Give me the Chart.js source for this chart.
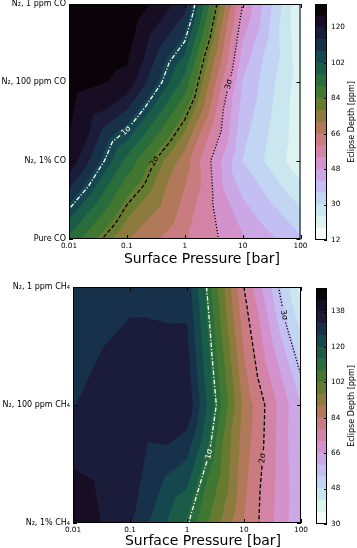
<!DOCTYPE html>
<html>
<head>
<meta charset="utf-8">
<title>Eclipse depth vs surface pressure</title>
<script src="https://cdn.jsdelivr.net/npm/chart.js"></script>
<style>
    body { margin: 0; background: #fff; width: 357px; height: 548px; overflow: hidden; position: relative; }
    canvas { position: absolute; }
</style>
</head>
<body>
<canvas id="coMap" width="310" height="270" style="left:0;top:0"></canvas>
<canvas id="coBar" width="52" height="250" style="left:305px;top:0"></canvas>
<canvas id="chMap" width="310" height="272" style="left:0;top:276px"></canvas>
<canvas id="chBar" width="52" height="258" style="left:305px;top:276px"></canvas>
<script>
// grid columns (surface pressure, bar)
const pressures = [0.01, 0.1, 1, 10, 100];

// top panel: CO
const coLabels = ['N\u2082, 1 ppm CO', 'N\u2082, 100 ppm CO', 'N\u2082, 1% CO', 'Pure CO'];
const coDepth = [
    [132, 132, 117, 54, 19],
    [129, 124.4, 94, 42, 21],
    [124.6, 94.3, 68.8, 36, 20],
    [94.6, 72.5, 61, 49, 37]
];
const coLevels = [12, 18, 24, 30, 36, 42, 48, 54, 60, 66, 72, 78, 84, 90, 96, 102, 108, 114, 120, 126, 132];
const coTicks = [12, 30, 48, 66, 84, 102, 120];
const coSigma = [106, 82, 54];

// bottom panel: CH4
const chLabels = ['N\u2082, 1 ppm CH\u2084', 'N\u2082, 100 ppm CH\u2084', 'N\u2082, 1% CH\u2084'];
const chDepth = [
    [129, 130.6, 129.8, 78, 40],
    [131.8, 136, 137, 88.4, 60],
    [143.4, 132.5, 113, 84, 61]
];
const chLevels = [30, 36, 42, 48, 54, 60, 66, 72, 78, 84, 90, 96, 102, 108, 114, 120, 126, 132, 138, 144, 150];
const chTicks = [30, 48, 66, 84, 102, 120, 138];
const chSigma = [112, 78, 55];

const sigmaNames = ['1\u03c3', '2\u03c3', '3\u03c3'];

Chart.defaults.font.family = '"DejaVu Sans", sans-serif';
Chart.defaults.color = '#000';
Chart.defaults.animation = false;

// cubehelix_r, 256 entry table like matplotlib
function cmapColor(x) {
    const idx = Math.min(255, Math.max(0, Math.floor(x * 256)));
    const l = 1 - idx / 255;
    const a = l * (1 - l) / 2;
    const phi = 2 * Math.PI * (0.5 / 3 - 1.5 * l);
    const c = Math.cos(phi), s = Math.sin(phi);
    const rgb = [
        l + a * (-0.14861 * c + 1.78277 * s),
        l + a * (-0.29227 * c - 0.90649 * s),
        l + a * (1.97294 * c)
    ];
    return rgb.map(v => Math.round(255 * Math.min(1, Math.max(0, v))));
}
function bandColors(levels) {
    const n = levels.length - 1;
    return Array.from({ length: n }, (_, k) => cmapColor((k + 0.5) / n));
}

const logP = pressures.map(Math.log10);
function colToPressure(ci) {
    const i = Math.min(logP.length - 2, Math.max(0, Math.floor(ci)));
    return 10 ** (logP[i] + (ci - i) * (logP[i + 1] - logP[i]));
}
function pressureToCol(p) {
    const lp = Math.log10(p);
    let i = 0;
    while (i < logP.length - 2 && lp > logP[i + 1]) i++;
    return i + (lp - logP[i]) / (logP[i + 1] - logP[i]);
}

function bary(px, py, ax, ay, va, bx, by, vb, cx, cy, vc) {
    const d = (by - cy) * (ax - cx) + (cx - bx) * (ay - cy);
    const wa = ((by - cy) * (px - cx) + (cx - bx) * (py - cy)) / d;
    const wb = ((cy - ay) * (px - cx) + (ax - cx) * (py - cy)) / d;
    return wa * va + wb * vb + (1 - wa - wb) * vc;
}

// each grid quad is split in four triangles around its centre
function makeField(depth) {
    const rows = depth.length, cols = depth[0].length;
    return function (gi, gj) {
        const i = Math.min(cols - 2, Math.max(0, Math.floor(gi)));
        const j = Math.min(rows - 2, Math.max(0, Math.floor(gj)));
        const s = gi - i, t = gj - j;
        const v00 = depth[j][i], v10 = depth[j][i + 1], v11 = depth[j + 1][i + 1], v01 = depth[j + 1][i];
        const vc = (v00 + v10 + v11 + v01) / 4;
        if (t <= s && t <= 1 - s) return bary(s, t, 0, 0, v00, 1, 0, v10, .5, .5, vc);
        if (s >= t && s >= 1 - t) return bary(s, t, 1, 0, v10, 1, 1, v11, .5, .5, vc);
        if (t >= s && t >= 1 - s) return bary(s, t, 1, 1, v11, 0, 1, v01, .5, .5, vc);
        return bary(s, t, 0, 1, v01, 0, 0, v00, .5, .5, vc);
    };
}

function contourPaths(depth, level) {
    const rows = depth.length, cols = depth[0].length;
    const segs = [];
    const node = (j, i) => ({ k: 'n' + j + '_' + i, i: i, j: j, v: depth[j][i] });
    for (let j = 0; j < rows - 1; j++) {
        for (let i = 0; i < cols - 1; i++) {
            const a = node(j, i), b = node(j, i + 1), c = node(j + 1, i + 1), d = node(j + 1, i);
            const e = { k: 'c' + j + '_' + i, i: i + .5, j: j + .5, v: (a.v + b.v + c.v + d.v) / 4 };
            for (const tri of [[a, b, e], [b, c, e], [c, d, e], [d, a, e]]) {
                const hits = [];
                for (let m = 0; m < 3; m++) {
                    const p = tri[m], q = tri[(m + 1) % 3];
                    if ((p.v >= level) !== (q.v >= level)) {
                        const f = (level - p.v) / (q.v - p.v);
                        hits.push({ key: [p.k, q.k].sort().join('|'), i: p.i + f * (q.i - p.i), j: p.j + f * (q.j - p.j) });
                    }
                }
                if (hits.length === 2) segs.push(hits);
            }
        }
    }
    const byKey = {};
    segs.forEach((s, n) => s.forEach(h => (byKey[h.key] = byKey[h.key] || []).push(n)));
    const used = segs.map(() => false);
    const isEnd = n => segs[n].some(h => byKey[h.key].length === 1);
    const order = segs.map((_, n) => n).sort((p, q) => isEnd(q) - isEnd(p));
    const paths = [];
    for (const n0 of order) {
        if (used[n0]) continue;
        used[n0] = true;
        let [first, second] = segs[n0];
        if (byKey[second.key].length === 1 && byKey[first.key].length !== 1) [first, second] = [second, first];
        const pts = [first, second];
        let cur = second;
        for (;;) {
            const next = byKey[cur.key].find(n => !used[n]);
            if (next === undefined) break;
            used[next] = true;
            const sg = segs[next];
            cur = sg[0].key === cur.key ? sg[1] : sg[0];
            pts.push(cur);
        }
        paths.push(pts);
    }
    return paths;
}

function pointAt(pts, cum, s) {
    s = Math.max(0, Math.min(cum[cum.length - 1], s));
    let k = 0;
    while (k < cum.length - 2 && cum[k + 1] < s) k++;
    const f = cum[k + 1] > cum[k] ? (s - cum[k]) / (cum[k + 1] - cum[k]) : 0;
    return [pts[k][0] + f * (pts[k + 1][0] - pts[k][0]), pts[k][1] + f * (pts[k + 1][1] - pts[k][1])];
}
function piece(pts, cum, s1, s2) {
    const out = [pointAt(pts, cum, s1)];
    for (let k = 0; k < pts.length; k++) if (cum[k] > s1 && cum[k] < s2) out.push(pts[k]);
    out.push(pointAt(pts, cum, s2));
    return out;
}
function strokePoly(ctx, pts) {
    if (pts.length < 2) return;
    ctx.beginPath();
    ctx.moveTo(pts[0][0], pts[0][1]);
    for (let k = 1; k < pts.length; k++) ctx.lineTo(pts[k][0], pts[k][1]);
    ctx.stroke();
}

const sigmaStyles = [
    { color: '#fff', dash: [4.5, 1.8, 1.2, 1.8] },
    { color: '#000', dash: [4, 2.2] },
    { color: '#000', dash: [1.2, 1.8] }
];

function drawSigma(ctx, chart, paths, style, text, at) {
    const sx = chart.scales.x, sy = chart.scales.y;
    const target = [sx.getPixelForValue(at[0]), sy.getPixelForValue(at[1])];
    const polys = paths.map(path => {
        const pts = path.map(p => [sx.getPixelForValue(colToPressure(p.i)), sy.getPixelForValue(p.j)]);
        const cum = [0];
        for (let k = 1; k < pts.length; k++) cum.push(cum[k - 1] + Math.hypot(pts[k][0] - pts[k - 1][0], pts[k][1] - pts[k - 1][1]));
        return { pts, cum };
    });
    let best = null;
    polys.forEach((pl, n) => {
        for (let k = 0; k < pl.pts.length - 1; k++) {
            const [x1, y1] = pl.pts[k], [x2, y2] = pl.pts[k + 1];
            const L2 = (x2 - x1) ** 2 + (y2 - y1) ** 2;
            let f = L2 ? ((target[0] - x1) * (x2 - x1) + (target[1] - y1) * (y2 - y1)) / L2 : 0;
            f = Math.max(0, Math.min(1, f));
            const d = Math.hypot(x1 + f * (x2 - x1) - target[0], y1 + f * (y2 - y1) - target[1]);
            if (!best || d < best.d) best = { d, n, s: pl.cum[k] + f * Math.sqrt(L2) };
        }
    });
    ctx.font = '8px "DejaVu Sans"';
    const half = ctx.measureText(text).width / 2 + 2.5;
    ctx.strokeStyle = style.color;
    ctx.lineWidth = 1.3;
    ctx.setLineDash(style.dash);
    polys.forEach((pl, n) => {
        const total = pl.cum[pl.cum.length - 1];
        if (best && n === best.n) {
            strokePoly(ctx, piece(pl.pts, pl.cum, 0, best.s - half));
            strokePoly(ctx, piece(pl.pts, pl.cum, best.s + half, total));
        } else {
            strokePoly(ctx, pl.pts);
        }
    });
    ctx.setLineDash([]);
    if (!best) return;
    const pl = polys[best.n];
    const p1 = pointAt(pl.pts, pl.cum, best.s - half), p2 = pointAt(pl.pts, pl.cum, best.s + half);
    const mid = pointAt(pl.pts, pl.cum, best.s);
    let ang = Math.atan2(p2[1] - p1[1], p2[0] - p1[0]);
    if (ang > Math.PI / 2) ang -= Math.PI;
    if (ang <= -Math.PI / 2) ang += Math.PI;
    ctx.save();
    ctx.translate(mid[0], mid[1]);
    ctx.rotate(ang);
    ctx.fillStyle = style.color;
    ctx.textAlign = 'center';
    ctx.textBaseline = 'middle';
    ctx.fillText(text, 0, 0);
    ctx.restore();
}

function makePanel(id, cfg) {
    const colors = bandColors(cfg.levels);
    const field = makeField(cfg.depth);
    const sigmaPaths = cfg.sigma.map(L => contourPaths(cfg.depth, L));
    const plugin = {
        id: 'contour_' + id,
        beforeDatasetsDraw(chart) {
            const { ctx, chartArea: { left, top, right, bottom } } = chart;
            const sx = chart.scales.x, sy = chart.scales.y;
            const ss = 2;
            const W = Math.round(right - left) * ss, H = Math.round(bottom - top) * ss;
            const off = document.createElement('canvas');
            off.width = W; off.height = H;
            const octx = off.getContext('2d');
            const img = octx.createImageData(W, H);
            const gis = [];
            for (let px = 0; px < W; px++) gis.push(pressureToCol(sx.getValueForPixel(left + (px + 0.5) / ss)));
            const n = cfg.levels.length - 1;
            for (let py = 0; py < H; py++) {
                const gj = sy.getValueForPixel(top + (py + 0.5) / ss);
                for (let px = 0; px < W; px++) {
                    const v = field(gis[px], gj);
                    let k = 0;
                    while (k < n - 1 && v >= cfg.levels[k + 1]) k++;
                    const c = colors[k], o = (py * W + px) * 4;
                    img.data[o] = c[0]; img.data[o + 1] = c[1]; img.data[o + 2] = c[2]; img.data[o + 3] = 255;
                }
            }
            octx.putImageData(img, 0, 0);
            ctx.drawImage(off, left, top, right - left, bottom - top);
        },
        afterDraw(chart) {
            const { ctx, chartArea: { left, top, right, bottom } } = chart;
            const sx = chart.scales.x, sy = chart.scales.y;
            ctx.save();
            ctx.beginPath();
            ctx.rect(left, top, right - left, bottom - top);
            ctx.clip();
            sigmaPaths.forEach((paths, m) => drawSigma(ctx, chart, paths, sigmaStyles[m], sigmaNames[m], cfg.labelAt[m]));
            ctx.restore();

            ctx.save();
            ctx.strokeStyle = '#000';
            ctx.lineWidth = 1;
            ctx.strokeRect(left + 0.5, top + 0.5, right - left - 1, bottom - top - 1);
            ctx.beginPath();
            pressures.forEach(p => {
                const x = Math.round(sx.getPixelForValue(p)) + 0.5;
                ctx.moveTo(x, bottom); ctx.lineTo(x, bottom - 4);
                ctx.moveTo(x, top); ctx.lineTo(x, top + 4);
            });
            cfg.labels.forEach((_, j) => {
                const y = Math.round(sy.getPixelForValue(j)) + 0.5;
                ctx.moveTo(left, y); ctx.lineTo(left + 4, y);
                ctx.moveTo(right, y); ctx.lineTo(right - 4, y);
            });
            ctx.stroke();
            ctx.fillStyle = '#000';
            ctx.font = '14px "DejaVu Sans"';
            ctx.textAlign = 'center';
            ctx.textBaseline = 'alphabetic';
            ctx.fillText('Surface Pressure [bar]', cfg.titleX, cfg.titleY);
            ctx.restore();
        }
    };
    return new Chart(document.getElementById(id), {
        type: 'scatter',
        data: { datasets: [] },
        options: {
            responsive: false,
            animation: false,
            layout: { padding: cfg.pad },
            plugins: { legend: { display: false }, tooltip: { enabled: false } },
            scales: {
                x: {
                    type: 'logarithmic',
                    min: pressures[0],
                    max: pressures[pressures.length - 1],
                    grid: { display: false, drawTicks: false },
                    border: { display: false },
                    afterBuildTicks: s => { s.ticks = pressures.map(v => ({ value: v })); },
                    afterFit: s => { s.height = cfg.xAxisH; s.paddingLeft = 0; s.paddingRight = 0; },
                    ticks: { callback: v => String(v), font: { size: 7.3 }, padding: 3, maxRotation: 0, autoSkip: false }
                },
                y: {
                    type: 'linear',
                    reverse: true,
                    min: 0,
                    max: cfg.labels.length - 1,
                    grid: { display: false, drawTicks: false },
                    border: { display: false },
                    afterBuildTicks: s => { s.ticks = cfg.labels.map((_, j) => ({ value: j })); },
                    afterFit: s => { s.width = cfg.yAxisW; s.paddingTop = 0; s.paddingBottom = 0; },
                    ticks: { callback: v => cfg.labels[v], font: { size: 8 }, padding: 3, autoSkip: false }
                }
            }
        },
        plugins: [plugin]
    });
}

function makeColorbar(id, levels, ticks, pad) {
    const colors = bandColors(levels);
    const frame = {
        id: 'cbframe_' + id,
        afterDraw(chart) {
            const { ctx, chartArea: { left, top, right, bottom } } = chart;
            const sy = chart.scales.y;
            ctx.save();
            ctx.strokeStyle = '#000';
            ctx.lineWidth = 1;
            ctx.strokeRect(left + 0.5, top + 0.5, right - left - 1, bottom - top - 1);
            ctx.beginPath();
            ticks.forEach(v => {
                const y = Math.round(sy.getPixelForValue(v)) + 0.5;
                ctx.moveTo(right, y); ctx.lineTo(right - 3, y);
            });
            ctx.stroke();
            ctx.translate(47, (top + bottom) / 2);
            ctx.rotate(-Math.PI / 2);
            ctx.fillStyle = '#000';
            ctx.font = '8px "DejaVu Sans"';
            ctx.textAlign = 'center';
            ctx.textBaseline = 'middle';
            ctx.fillText('Eclipse Depth [ppm]', 0, 0);
            ctx.restore();
        }
    };
    return new Chart(document.getElementById(id), {
        type: 'bar',
        data: {
            labels: [''],
            datasets: colors.map((c, k) => ({
                data: [[levels[k], levels[k + 1]]],
                backgroundColor: 'rgb(' + c.join(',') + ')',
                borderWidth: 0,
                grouped: false,
                barPercentage: 1,
                categoryPercentage: 1
            }))
        },
        options: {
            responsive: false,
            animation: false,
            layout: { padding: pad },
            plugins: { legend: { display: false }, tooltip: { enabled: false } },
            scales: {
                x: { display: false },
                y: {
                    position: 'right',
                    min: levels[0],
                    max: levels[levels.length - 1],
                    grid: { display: false, drawTicks: false },
                    border: { display: false },
                    afterBuildTicks: s => { s.ticks = ticks.map(v => ({ value: v })); },
                    afterFit: s => { s.width = 30; s.paddingTop = 0; s.paddingBottom = 0; },
                    ticks: { font: { size: 7.3 }, padding: 4, autoSkip: false }
                }
            }
        },
        plugins: [frame]
    });
}

makePanel('coMap', {
    depth: coDepth, levels: coLevels, labels: coLabels, sigma: coSigma,
    labelAt: [[0.086, 1.57], [0.285, 2.0], [4.1, 1.0]],
    pad: { top: 4, right: 9.5, left: 0, bottom: 0 },
    xAxisH: 31, yAxisW: 69, titleX: 202, titleY: 263
});
makeColorbar('coBar', coLevels, coTicks, { top: 4, bottom: 10, left: 10, right: 0 });

makePanel('chMap', {
    depth: chDepth, levels: chLevels, labels: chLabels, sigma: chSigma,
    labelAt: [[1.9, 1.4], [20.7, 1.45], [48, 0.24]],
    pad: { top: 11, right: 9, left: 0, bottom: 0 },
    xAxisH: 25, yAxisW: 73, titleX: 203, titleY: 269
});
makeColorbar('chBar', chLevels, chTicks, { top: 12, bottom: 10, left: 11, right: 0 });
</script>
</body>
</html>
